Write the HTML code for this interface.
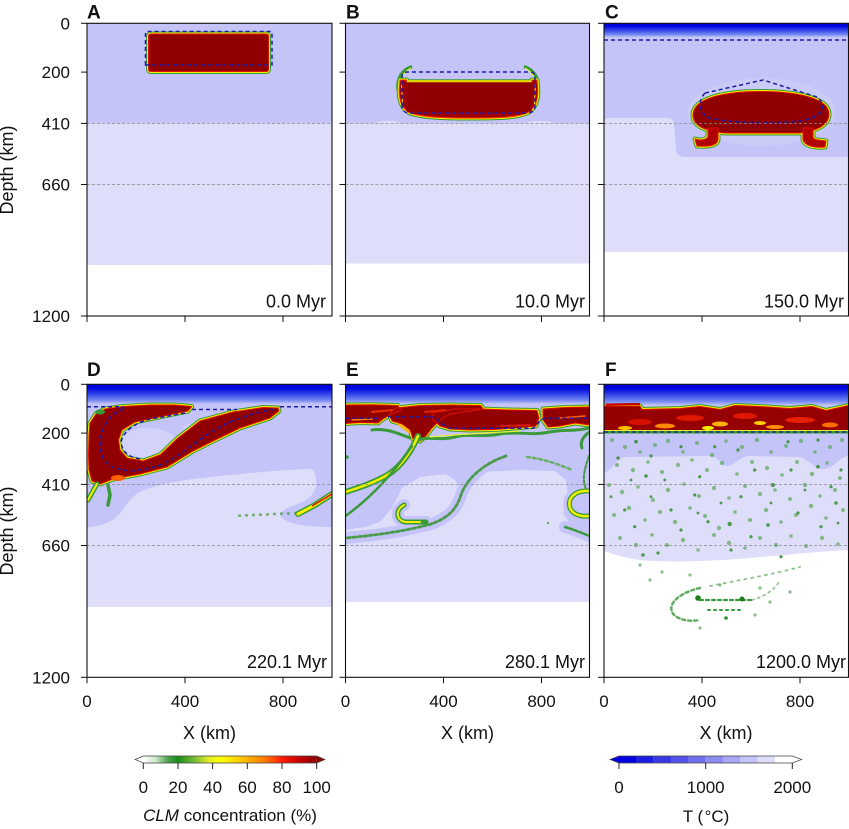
<!DOCTYPE html>
<html><head><meta charset="utf-8"><style>
html,body{margin:0;padding:0;background:#fff;}
svg{display:block;}
text{font-family:"Liberation Sans",Arial,sans-serif;fill:#111;}
</style></head><body>
<svg width="849" height="829" viewBox="0 0 849 829" xmlns="http://www.w3.org/2000/svg">
<defs>
<clipPath id="cA"><rect x="87" y="23.3" width="245" height="292.7"/></clipPath>
<clipPath id="cB"><rect x="345.5" y="23.3" width="244" height="292.7"/></clipPath>
<clipPath id="cC"><rect x="604" y="23.3" width="244.5" height="292.7"/></clipPath>
<clipPath id="cD"><rect x="87" y="384.3" width="245" height="293"/></clipPath>
<clipPath id="cE"><rect x="345.5" y="384.3" width="244" height="293"/></clipPath>
<clipPath id="cF"><rect x="604" y="384.3" width="244.5" height="293"/></clipPath>
<linearGradient id="gt" x1="0" y1="0" x2="0" y2="1">
<stop offset="0" stop-color="#0000dc"/><stop offset="0.2" stop-color="#0006de"/><stop offset="0.42" stop-color="#2434e6"/><stop offset="0.62" stop-color="#4a5eec"/><stop offset="0.82" stop-color="#7a8cf2"/><stop offset="1" stop-color="#c4c4f8"/>
</linearGradient>
<linearGradient id="gclm" x1="0" y1="0" x2="1" y2="0">
<stop offset="0" stop-color="#ffffff"/><stop offset="0.07" stop-color="#cfe8cf"/><stop offset="0.14" stop-color="#4fa34f"/><stop offset="0.2" stop-color="#1a8a1a"/><stop offset="0.3" stop-color="#7cbf34"/><stop offset="0.38" stop-color="#e4f020"/><stop offset="0.45" stop-color="#ffff00"/><stop offset="0.58" stop-color="#ffbe00"/><stop offset="0.7" stop-color="#ff7a00"/><stop offset="0.8" stop-color="#ff1a00"/><stop offset="0.9" stop-color="#c80000"/><stop offset="1" stop-color="#8b0000"/>
</linearGradient>
</defs>
<rect width="849" height="829" fill="#fff"/>

<!-- ================= PANEL A ================= -->
<g clip-path="url(#cA)">
<rect x="87" y="23.3" width="245" height="100.1" fill="#c4c4f8"/>
<rect x="87" y="123.4" width="245" height="141.6" fill="#dedefa"/>
<rect x="148.5" y="34" width="120" height="37.5" rx="2" fill="none" stroke="#3a9a3a" stroke-width="5"/>
<rect x="148.5" y="34" width="120" height="37.5" rx="2" fill="none" stroke="#f4f000" stroke-width="3"/>
<rect x="148.5" y="34" width="120" height="37.5" rx="2" fill="#900000" stroke="#e01000" stroke-width="1"/>
<path d="M145.5,65 L145.5,33 Q145.5,31.5 147,31.5 L270.5,31.5 Q272,31.5 272,33 L272,65 Z" fill="none" stroke="#1c1ca8" stroke-width="1.5" stroke-dasharray="4 3"/>
</g>

<!-- ================= PANEL B ================= -->
<g clip-path="url(#cB)">
<rect x="345.5" y="23.3" width="244" height="100.1" fill="#c4c4f8"/>
<rect x="345.5" y="123.4" width="244" height="140.1" fill="#dedefa"/>
<ellipse cx="388" cy="123.4" rx="12" ry="2.5" fill="#dedefa"/>
<ellipse cx="540" cy="123.4" rx="14" ry="2.5" fill="#dedefa"/>
<path d="M412,66.5 C402,70 397,78 398,90" fill="none" stroke="#3a9a3a" stroke-width="3.5"/>
<path d="M524,66.5 C534,70 539,78 538,90" fill="none" stroke="#3a9a3a" stroke-width="3.5"/>
<path d="M411,68 C403,72 399,80 400,90" fill="none" stroke="#e8f030" stroke-width="1"/>
<path d="M525,68 C533,72 537,80 536,90" fill="none" stroke="#e8f030" stroke-width="1"/>
<path d="M400,80 C398,95 399,107 410,113 C425,118 450,118 468,118 C495,118 515,118 527,113 C538,107 539,95 537,80 L531.7,80 L531.7,81.7 L406.7,81.7 L406.7,80 Z" fill="none" stroke="#3a9a3a" stroke-width="5" stroke-linejoin="round"/>
<path d="M400,80 C398,95 399,107 410,113 C425,118 450,118 468,118 C495,118 515,118 527,113 C538,107 539,95 537,80 L531.7,80 L531.7,81.7 L406.7,81.7 L406.7,80 Z" fill="none" stroke="#f4f000" stroke-width="3" stroke-linejoin="round"/>
<path d="M400,80 C398,95 399,107 410,113 C425,118 450,118 468,118 C495,118 515,118 527,113 C538,107 539,95 537,80 L531.7,80 L531.7,81.7 L406.7,81.7 L406.7,80 Z" fill="#a00000" stroke="#ff3000" stroke-width="1" stroke-linejoin="round"/>
<path d="M401.5,84 L402.5,104" stroke="#f0e000" stroke-width="1" fill="none"/>
<path d="M535.5,84 L534.5,104" stroke="#f0e000" stroke-width="1" fill="none"/>
<rect x="406.7" y="81.7" width="125" height="30" fill="#900000"/>
<line x1="406.7" y1="81.7" x2="531.7" y2="81.7" stroke="#f0e000" stroke-width="1.2"/>
<path d="M402,106 L402,77 Q402,72 407,72 L530,72 Q535,72 535,77 L535,106 Q535,113 527,113 L410,113 Q402,113 402,106 Z" fill="none" stroke="#1c1ca8" stroke-width="1.5" stroke-dasharray="4 3"/>
</g>

<!-- ================= PANEL C ================= -->
<g clip-path="url(#cC)">
<rect x="604" y="23.3" width="244.5" height="228.4" fill="#c4c4f8"/>
<rect x="604" y="23.3" width="244.5" height="14" fill="url(#gt)"/>
<path d="M604,121 Q604,118 610,118 L668,118 Q673,118 674,124 L676,150 Q677,157 685,157 L848.5,157 L848.5,251.7 L604,251.7 Z" fill="#dedefa"/>
<ellipse cx="762" cy="112" rx="74" ry="34" fill="#cbcbf8"/>
<line x1="604" y1="40" x2="848.5" y2="40" stroke="#1c1ca8" stroke-width="1.5" stroke-dasharray="4 3"/>
<g stroke-linejoin="round">
<path d="M693,115 C693,98 725,91.5 760,91.5 C800,91.5 829,99 829,114 C829,126 815,131 800,133 L725,133 C705,131 693,126 693,115 Z M708,128 L718,128 L718,140 C717,145 710,147 697,146 L695,139 C700,141 706,140 708,137 Z M803,128 L813,128 L813,138 C816,141 822,140 826,141 L825,147 C815,148 805,146 803,140 Z" fill="none" stroke="#3a9a3a" stroke-width="5"/>
<path d="M693,115 C693,98 725,91.5 760,91.5 C800,91.5 829,99 829,114 C829,126 815,131 800,133 L725,133 C705,131 693,126 693,115 Z M708,128 L718,128 L718,140 C717,145 710,147 697,146 L695,139 C700,141 706,140 708,137 Z M803,128 L813,128 L813,138 C816,141 822,140 826,141 L825,147 C815,148 805,146 803,140 Z" fill="none" stroke="#f4f000" stroke-width="3"/>
<path d="M693,115 C693,98 725,91.5 760,91.5 C800,91.5 829,99 829,114 C829,126 815,131 800,133 L725,133 C705,131 693,126 693,115 Z" fill="#900000" stroke="#e01000" stroke-width="1"/>
<path d="M708,128 L718,128 L718,140 C717,145 710,147 697,146 L695,139 C700,141 706,140 708,137 Z M803,128 L813,128 L813,138 C816,141 822,140 826,141 L825,147 C815,148 805,146 803,140 Z" fill="#b00000" stroke="#e01000" stroke-width="1"/>
</g>
<path d="M705,93 L763,80 L817,97 C827,105 825,117 800,121 C770,124 730,123 710,118 C698,114 698,100 705,93 Z" fill="none" stroke="#1c1ca8" stroke-width="1.5" stroke-dasharray="4 3"/>
</g>

<!-- ================= PANEL D ================= -->
<g clip-path="url(#cD)">
<rect x="87" y="384.3" width="245" height="222.4" fill="#c4c4f8"/>
<rect x="87" y="384.3" width="245" height="19.7" fill="url(#gt)"/>
<path d="M87,527 L87,606.7 L332,606.7 L332,527 C310,527 290,525 282,518 C276,513 285,508 300,503 C312,498 317,490 316,480 C315,470 312,468 305,469 C280,470 240,474 210,477 C180,480 155,485 140,492 C128,498 125,510 115,518 C108,524 95,527 87,527 Z" fill="#dedefa"/>
<ellipse cx="148" cy="444" rx="30" ry="16" fill="#d2d2fa"/>
<path d="M182,428 C195,420 215,414 236,411 C215,416 200,422 190,430 Z" fill="#d2d2fa"/>
<g stroke-linejoin="round">
<path d="M90,423 L96,414 L105,409 L123,406.5 L150,405 L175,405 L191.7,406.5 L188,411 L160,416.7 L135,422 L122,430 L118.5,440 L120,450 L127,458 L143,461 L160,455 L178,438 L200,421 L233,412 L263,407.5 L278,408 L279,411 L270,418 L240,428 L215,440 L193,451 L167,467 L140,474 L113,479 L100,484 L92,481 L89,470 L88.5,455 L89,435 Z" fill="none" stroke="#3a9a3a" stroke-width="5"/>
<path d="M90,423 L96,414 L105,409 L123,406.5 L150,405 L175,405 L191.7,406.5 L188,411 L160,416.7 L135,422 L122,430 L118.5,440 L120,450 L127,458 L143,461 L160,455 L178,438 L200,421 L233,412 L263,407.5 L278,408 L279,411 L270,418 L240,428 L215,440 L193,451 L167,467 L140,474 L113,479 L100,484 L92,481 L89,470 L88.5,455 L89,435 Z" fill="none" stroke="#f4f000" stroke-width="3"/>
<path d="M90,423 L96,414 L105,409 L123,406.5 L150,405 L175,405 L191.7,406.5 L188,411 L160,416.7 L135,422 L122,430 L118.5,440 L120,450 L127,458 L143,461 L160,455 L178,438 L200,421 L233,412 L263,407.5 L278,408 L279,411 L270,418 L240,428 L215,440 L193,451 L167,467 L140,474 L113,479 L100,484 L92,481 L89,470 L88.5,455 L89,435 Z" fill="#900000" stroke="#e01000" stroke-width="1"/>
</g>
<ellipse cx="118" cy="478" rx="7" ry="3" fill="#ff6000"/>
<ellipse cx="100" cy="412" rx="5" ry="2.5" fill="#3a9a3a"/>
<path d="M88,500 L93,491 L97,484" fill="none" stroke="#3a9a3a" stroke-width="5" stroke-linecap="round"/>
<path d="M88,500 L93,491 L97,484" fill="none" stroke="#f4f000" stroke-width="2" stroke-linecap="round"/>
<path d="M108,485 L110,495 L108,505" fill="none" stroke="#3a9a3a" stroke-width="3.5" stroke-linecap="round"/>
<path d="M238,515.7 L298,513" fill="none" stroke="#4e9e4e" stroke-width="2.5" stroke-dasharray="3 4" opacity="0.75"/>
<path d="M298,514 L315,505 L332,494" fill="none" stroke="#3a9a3a" stroke-width="6" stroke-linecap="round"/>
<path d="M298,514 L315,505 L332,494" fill="none" stroke="#f4f000" stroke-width="3" stroke-linecap="round"/>
<path d="M312,506 L332,494" fill="none" stroke="#e01000" stroke-width="1.5"/>
<g fill="none" stroke="#1c1ca8" stroke-width="1.5" stroke-dasharray="4 3">
<path d="M87,406.7 L123,406.7"/>
<path d="M123,409 C100,418 96,445 104,460 C112,472 135,474 160,465 C185,455 200,435 230,422 C250,414 265,410 278,409"/>
<path d="M192,409.5 L237,409.5"/>
<path d="M185,413 L150,419 Q125,426 121,442 Q122,456 140,459"/>
<path d="M280,406.7 L332,406.7"/>
</g>
</g>

<!-- ================= PANEL E ================= -->
<g clip-path="url(#cE)">
<rect x="345.5" y="384.3" width="244" height="217.4" fill="#c4c4f8"/>
<rect x="345.5" y="384.3" width="244" height="19.7" fill="url(#gt)"/>
<path d="M345.5,530 L365,527 L380,522 L392,508 L402,488 L420,477 L445,474 L455,480 L460,488 L466,479 L482,472 L520,470 L555,471 L566,480 L568,498 L563,514 L574,528 L589.5,538 L589.5,601.7 L345.5,601.7 Z" fill="#dedefa"/>
<g fill="none" stroke="#c4c4f8" stroke-width="12" stroke-linecap="round">
<path d="M418,436 C411,452 401,466 389,474 C376,482 361,487 345.5,492"/>
<path d="M412,446 C397,468 376,494 345.5,516"/>
<path d="M506,456 C482,464 466,480 461,495 C456,510 448,518 431,524 C410,530 380,535 345.5,538"/>
<path d="M404,505 C395,510 396,520 405,522 L426,522"/>
<path d="M589.5,491 C575,490 567,498 570,508 C573,515 582,517 589.5,516"/>
<path d="M565,527 C575,530 582,533 589.5,536"/>
</g>
<g stroke-linejoin="round">
<path d="M345.5,405 L372,404.8 L398,405.5 L401,410 L392,414 L383,419 L378,423 L360,422.5 L345.5,423.5 Z M389,414 L396,408 L420,405.5 L450,405 L481,405.5 L483,409 L470,411 L450,414 L440,420 L432,428 L426,436 L420,441 L413,439 L410,430 L402,424 L392,421 Z M432,413 L455,409 L480,409 L510,410 L537,410.5 L539,418 L536,426 L520,427.5 L495,429.5 L470,430 L450,429 L440,426 L433,420 Z M543,409 L565,407.5 L589.5,407 L589.5,425 L575,423 L560,426 L548,427 L543,420 Z" fill="none" stroke="#3a9a3a" stroke-width="5"/>
<path d="M345.5,405 L372,404.8 L398,405.5 L401,410 L392,414 L383,419 L378,423 L360,422.5 L345.5,423.5 Z M389,414 L396,408 L420,405.5 L450,405 L481,405.5 L483,409 L470,411 L450,414 L440,420 L432,428 L426,436 L420,441 L413,439 L410,430 L402,424 L392,421 Z M432,413 L455,409 L480,409 L510,410 L537,410.5 L539,418 L536,426 L520,427.5 L495,429.5 L470,430 L450,429 L440,426 L433,420 Z M543,409 L565,407.5 L589.5,407 L589.5,425 L575,423 L560,426 L548,427 L543,420 Z" fill="none" stroke="#f4f000" stroke-width="3"/>
<path d="M345.5,405 L372,404.8 L398,405.5 L401,410 L392,414 L383,419 L378,423 L360,422.5 L345.5,423.5 Z M389,414 L396,408 L420,405.5 L450,405 L481,405.5 L483,409 L470,411 L450,414 L440,420 L432,428 L426,436 L420,441 L413,439 L410,430 L402,424 L392,421 Z M432,413 L455,409 L480,409 L510,410 L537,410.5 L539,418 L536,426 L520,427.5 L495,429.5 L470,430 L450,429 L440,426 L433,420 Z M543,409 L565,407.5 L589.5,407 L589.5,425 L575,423 L560,426 L548,427 L543,420 Z" fill="#920000" stroke="#e01000" stroke-width="1"/>
</g>
<g fill="none" stroke-linecap="round">
<path d="M398,424 L410,433" stroke="#ffb000" stroke-width="2"/>
<path d="M372,412 L392,410" stroke="#e83000" stroke-width="2"/>
<path d="M352,420 L372,419" stroke="#ff8000" stroke-width="1.5"/>
<path d="M425,412 L445,410" stroke="#e02000" stroke-width="2"/>
<path d="M560,418 L585,416" stroke="#ff6000" stroke-width="1.5"/>
<path d="M500,426 L530,425" stroke="#e02000" stroke-width="1.5"/>
<path d="M372,430 C385,428 395,432 410,438" stroke="#3a9a3a" stroke-width="3"/>
<path d="M418,440 C430,436 440,441 455,437 C470,433 480,438 500,434 C520,431 530,436 550,432 C565,429 575,432 589.5,428" stroke="#3a9a3a" stroke-width="3"/>
<path d="M430,437 C460,434 490,433 520,431" stroke="#e8f030" stroke-width="1.2"/>
<path d="M418,436 C411,452 401,466 389,474 C376,482 361,487 345.5,492" stroke="#3a9a3a" stroke-width="6"/>
<path d="M418,436 C411,452 401,466 389,474 C376,482 361,487 345.5,492" stroke="#f0f000" stroke-width="2.5"/>
<path d="M412,446 C397,468 376,494 345.5,516" stroke="#3a9a3a" stroke-width="2.5"/>
<path d="M506,456 C482,464 466,480 461,495 C456,510 448,518 431,524 C410,530 380,535 345.5,538" stroke="#4a9a4a" stroke-width="2.8" stroke-dasharray="3 2.5"/>
<path d="M404,505 C395,510 396,520 405,522 L426,522" stroke="#3a9a3a" stroke-width="5"/>
<path d="M404,505 C395,510 396,520 405,522 L420,522" stroke="#f0f000" stroke-width="2"/>
<path d="M527,457 C545,459 560,465 572,470" stroke="#6aae6a" stroke-width="2.5" stroke-dasharray="3 3"/>
<path d="M589.5,491 C575,490 567,498 570,508 C573,515 582,517 589.5,516" stroke="#3a9a3a" stroke-width="5"/>
<path d="M589.5,491 C575,490 567,498 570,508 C573,515 582,517 589.5,516" stroke="#f0f000" stroke-width="2.5"/>
<path d="M565,527 C575,530 582,533 589.5,536" stroke="#3a9a3a" stroke-width="2.5" stroke-dasharray="3 2"/>
<path d="M589.5,432 C582,437 580,443 582,448" stroke="#3a9a3a" stroke-width="3"/>
<path d="M589,456 C584,470 582,480 586,489" stroke="#4a9a4a" stroke-width="2" stroke-dasharray="3 2"/>
</g>
<circle cx="347" cy="457" r="1.8" fill="#3a9a3a"/>
<circle cx="548" cy="523" r="1.2" fill="#6aae6a"/>
<path d="M345.5,418.3 L378,418.3 M388,416.7 L432,416.7 C438,418 442,426 450,428.3 L533,428.3 C537,426 538,420 545,418.3 L589.5,418.3" fill="none" stroke="#1c1ca8" stroke-width="1.5" stroke-dasharray="4 3"/>
</g>

<!-- ================= PANEL F ================= -->
<g clip-path="url(#cF)">
<rect x="604" y="384.3" width="244.5" height="92" fill="#c4c4f8"/>
<rect x="604" y="384.3" width="244.5" height="21" fill="url(#gt)"/>
<path d="M604,473 C612,470 615,460 625,457 L710,456 C720,457 722,467 728,466 C735,465 740,457 748,456 L800,457 C810,460 815,470 825,469 C835,467 840,457 848.5,456 L848.5,550 C820,551 790,555 760,557 C720,561 670,563 640,560 C620,557 610,553 604,551 Z" fill="#dedefa"/>
<g stroke-linejoin="round">
<path d="M604,406 L640,406 L642,409.5 L660,409 L680,408.5 L700,406.5 L720,409.5 L735,405.5 L760,406.5 L790,408.5 L812,406.5 L826,410.5 L848.5,405.5 L848.5,431 L604,431 Z" fill="none" stroke="#3a9a3a" stroke-width="5"/>
<path d="M604,406 L640,406 L642,409.5 L660,409 L680,408.5 L700,406.5 L720,409.5 L735,405.5 L760,406.5 L790,408.5 L812,406.5 L826,410.5 L848.5,405.5 L848.5,431 L604,431 Z" fill="none" stroke="#f4f000" stroke-width="3"/>
<path d="M604,406 L640,406 L642,409.5 L660,409 L680,408.5 L700,406.5 L720,409.5 L735,405.5 L760,406.5 L790,408.5 L812,406.5 L826,410.5 L848.5,405.5 L848.5,431 L604,431 Z" fill="#960000" stroke="#e01000" stroke-width="1"/>
</g>
<g>
<ellipse cx="690" cy="418" rx="14" ry="3" fill="#e01800"/>
<ellipse cx="745" cy="416" rx="12" ry="3" fill="#e01800"/>
<ellipse cx="800" cy="420" rx="15" ry="3" fill="#e82000"/>
<ellipse cx="640" cy="422" rx="12" ry="3" fill="#d81000"/>
<ellipse cx="665" cy="426" rx="10" ry="2.5" fill="#ff8a00"/>
<ellipse cx="720" cy="424" rx="8" ry="2.5" fill="#ffb000"/>
<ellipse cx="775" cy="427" rx="9" ry="2" fill="#ff9000"/>
<ellipse cx="830" cy="425" rx="8" ry="2.5" fill="#ff7000"/>
<ellipse cx="708" cy="428" rx="6" ry="2" fill="#f0f000"/>
<ellipse cx="625" cy="428" rx="7" ry="2" fill="#ffc000"/>
<ellipse cx="760" cy="423" rx="6" ry="2" fill="#ffd000"/>
</g>
<path d="M606,404.5 L640,404" fill="none" stroke="#c00000" stroke-width="2"/>
<path d="M604,432 L848.5,432" fill="none" stroke="#3a9a3a" stroke-width="3"/>
<path d="M604,430.5 L848.5,430.5" fill="none" stroke="#e8f030" stroke-width="1"/>
<path d="M604,432 L848.5,432" fill="none" stroke="#1c1c90" stroke-width="1.3" stroke-dasharray="4 3"/>
<g fill="#5aa85a" opacity="0.7">
<circle cx="612" cy="440" r="2"/><circle cx="625" cy="447" r="2.2"/><circle cx="640" cy="452" r="1.8"/><circle cx="655" cy="445" r="2"/><circle cx="668" cy="441" r="2.2"/><circle cx="683" cy="452" r="1.8"/><circle cx="697" cy="443" r="2"/><circle cx="712" cy="455" r="2.2"/><circle cx="726" cy="441" r="1.8"/><circle cx="742" cy="447" r="2"/><circle cx="757" cy="440" r="2.2"/><circle cx="771" cy="452" r="1.8"/><circle cx="786" cy="446" r="2"/><circle cx="801" cy="441" r="2.2"/><circle cx="815" cy="452" r="1.8"/><circle cx="830" cy="447" r="2"/><circle cx="842" cy="440" r="2"/>
<circle cx="617" cy="465" r="2"/><circle cx="633" cy="470" r="2.2"/><circle cx="648" cy="462" r="1.8"/><circle cx="662" cy="472" r="2"/><circle cx="678" cy="465" r="2.2"/><circle cx="692" cy="460" r="1.8"/><circle cx="707" cy="470" r="2"/><circle cx="722" cy="463" r="2.2"/><circle cx="737" cy="474" r="1.8"/><circle cx="752" cy="462" r="2"/><circle cx="767" cy="468" r="2.2"/><circle cx="782" cy="475" r="1.8"/><circle cx="797" cy="462" r="2"/><circle cx="812" cy="474" r="2.2"/><circle cx="827" cy="463" r="1.8"/><circle cx="840" cy="478" r="2"/>
<circle cx="609" cy="485" r="2"/><circle cx="622" cy="492" r="2.2"/><circle cx="638" cy="487" r="1.8"/><circle cx="653" cy="500" r="2"/><circle cx="668" cy="490" r="2.2"/><circle cx="684" cy="484" r="1.8"/><circle cx="699" cy="496" r="2"/><circle cx="714" cy="488" r="2.2"/><circle cx="729" cy="498" r="1.8"/><circle cx="745" cy="486" r="2"/><circle cx="760" cy="494" r="2.2"/><circle cx="775" cy="490" r="1.8"/><circle cx="790" cy="499" r="2"/><circle cx="805" cy="485" r="2.2"/><circle cx="820" cy="496" r="1.8"/><circle cx="835" cy="490" r="2"/>
<circle cx="614" cy="515" r="2"/><circle cx="629" cy="508" r="2.2"/><circle cx="645" cy="520" r="1.8"/><circle cx="660" cy="512" r="2"/><circle cx="675" cy="522" r="2.2"/><circle cx="690" cy="508" r="1.8"/><circle cx="705" cy="516" r="2"/><circle cx="719" cy="528" r="2.2"/><circle cx="735" cy="512" r="1.8"/><circle cx="750" cy="520" r="2"/><circle cx="766" cy="510" r="2.2"/><circle cx="781" cy="522" r="1.8"/><circle cx="796" cy="515" r="2"/><circle cx="811" cy="506" r="2.2"/><circle cx="826" cy="518" r="1.8"/><circle cx="843" cy="510" r="2"/>
<circle cx="620" cy="538" r="2"/><circle cx="636" cy="545" r="2.2"/><circle cx="652" cy="535" r="1.8"/><circle cx="667" cy="545" r="2"/><circle cx="683" cy="540" r="2.2"/><circle cx="698" cy="550" r="1.8"/><circle cx="714" cy="535" r="2"/><circle cx="729" cy="543" r="2.2"/><circle cx="745" cy="548" r="1.8"/><circle cx="760" cy="538" r="2"/><circle cx="776" cy="545" r="2.2"/><circle cx="791" cy="536" r="1.8"/><circle cx="806" cy="546" r="2"/><circle cx="822" cy="538" r="2.2"/><circle cx="838" cy="544" r="1.8"/>
<circle cx="640" cy="565" r="1.6"/><circle cx="662" cy="572" r="1.6"/><circle cx="690" cy="575" r="1.6"/><circle cx="720" cy="585" r="1.6"/><circle cx="760" cy="588" r="1.6"/><circle cx="790" cy="592" r="1.6"/><circle cx="770" cy="602" r="1.6"/><circle cx="755" cy="615" r="1.6"/><circle cx="700" cy="628" r="1.6"/><circle cx="650" cy="580" r="1.6"/>
</g>
<g fill="#2f8f2f" opacity="0.85">
<circle cx="636" cy="441.7" r="1.8"/><circle cx="646" cy="476" r="1.8"/><circle cx="651" cy="456" r="1.6"/><circle cx="773" cy="485" r="2"/><circle cx="729.7" cy="524" r="2.2"/><circle cx="768" cy="525" r="1.8"/><circle cx="836" cy="503" r="1.8"/><circle cx="818" cy="466.7" r="1.8"/><circle cx="699.7" cy="476.7" r="1.6"/><circle cx="694.7" cy="495" r="1.6"/><circle cx="643" cy="555" r="1.8"/><circle cx="738" cy="450" r="1.6"/><circle cx="788" cy="441.7" r="1.6"/><circle cx="818" cy="440" r="1.6"/><circle cx="618" cy="458" r="1.6"/><circle cx="671" cy="510" r="1.6"/><circle cx="708" cy="521.7" r="1.6"/><circle cx="751" cy="536.7" r="1.6"/><circle cx="798" cy="513" r="1.6"/><circle cx="831" cy="486.7" r="1.6"/><circle cx="681" cy="530" r="1.6"/><circle cx="658" cy="553" r="1.6"/><circle cx="731" cy="550" r="1.6"/><circle cx="781" cy="556.7" r="1.6"/><circle cx="624.7" cy="510" r="1.6"/><circle cx="611" cy="496.7" r="1.4"/><circle cx="754.7" cy="470" r="1.6"/><circle cx="714.7" cy="446.7" r="1.6"/><circle cx="681" cy="446.7" r="1.6"/><circle cx="791" cy="470" r="1.6"/><circle cx="841" cy="470" r="1.6"/><circle cx="805" cy="490" r="1.4"/><circle cx="721" cy="503" r="1.4"/><circle cx="741" cy="496.7" r="1.6"/><circle cx="771" cy="503" r="1.4"/><circle cx="651" cy="496.7" r="1.4"/><circle cx="634.7" cy="526.7" r="1.6"/><circle cx="698" cy="513" r="1.4"/><circle cx="821" cy="526.7" r="1.6"/><circle cx="838" cy="523" r="1.4"/><circle cx="664.7" cy="480" r="1.4"/><circle cx="631" cy="480" r="1.4"/>
</g>
<g fill="none" stroke="#3a9a3a" stroke-linecap="round">
<path d="M700,588 C682,592 668,602 672,612 C676,620 690,622 700,620" stroke-width="2.5" stroke-dasharray="3 3" opacity="0.8"/>
<path d="M700,600 L752,600" stroke-width="2.2" stroke-dasharray="3 3"/>
<path d="M708,610 L740,610" stroke-width="2" stroke-dasharray="2 4"/>
<path d="M710,586 C740,580 770,575 800,567" stroke-width="1.8" stroke-dasharray="2 5" opacity="0.6"/>
<path d="M752,600 C765,596 775,590 780,580" stroke-width="1.6" stroke-dasharray="2 4" opacity="0.6"/>
</g>
<circle cx="698" cy="598" r="2.8" fill="#1f7f1f"/>
<circle cx="742" cy="599" r="2.5" fill="#1f7f1f"/>
<circle cx="726" cy="618" r="1.8" fill="#2f8f2f"/>
</g>

<!-- ===== gray dashed 410/660 lines ===== -->
<g stroke="#8a8a8a" stroke-width="0.8" stroke-dasharray="3 2">
<line x1="87" y1="123.4" x2="332" y2="123.4"/><line x1="87" y1="184.5" x2="332" y2="184.5"/>
<line x1="345.5" y1="123.4" x2="589.5" y2="123.4"/><line x1="345.5" y1="184.5" x2="589.5" y2="184.5"/>
<line x1="604" y1="123.4" x2="848.5" y2="123.4"/><line x1="604" y1="184.5" x2="848.5" y2="184.5"/>
<line x1="87" y1="484.4" x2="332" y2="484.4"/><line x1="87" y1="545.5" x2="332" y2="545.5"/>
<line x1="345.5" y1="484.4" x2="589.5" y2="484.4"/><line x1="345.5" y1="545.5" x2="589.5" y2="545.5"/>
<line x1="604" y1="484.4" x2="848.5" y2="484.4"/><line x1="604" y1="545.5" x2="848.5" y2="545.5"/>
</g>

<!-- ===== frames ===== -->
<g fill="none" stroke="#111" stroke-width="1.1">
<rect x="87" y="23.3" width="245" height="292.7"/>
<rect x="345.5" y="23.3" width="244" height="292.7"/>
<rect x="604" y="23.3" width="244.5" height="292.7"/>
<rect x="87" y="384.3" width="245" height="293"/>
<rect x="345.5" y="384.3" width="244" height="293"/>
<rect x="604" y="384.3" width="244.5" height="293"/>
</g>

<!-- ===== ticks ===== -->
<g stroke="#111" stroke-width="1">
<line x1="81" y1="23.3" x2="87" y2="23.3"/><line x1="81" y1="72.1" x2="87" y2="72.1"/><line x1="81" y1="123.4" x2="87" y2="123.4"/><line x1="81" y1="184.5" x2="87" y2="184.5"/><line x1="81" y1="316" x2="87" y2="316"/>
<line x1="339.5" y1="23.3" x2="345.5" y2="23.3"/><line x1="339.5" y1="72.1" x2="345.5" y2="72.1"/><line x1="339.5" y1="123.4" x2="345.5" y2="123.4"/><line x1="339.5" y1="184.5" x2="345.5" y2="184.5"/><line x1="339.5" y1="316" x2="345.5" y2="316"/>
<line x1="598" y1="23.3" x2="604" y2="23.3"/><line x1="598" y1="72.1" x2="604" y2="72.1"/><line x1="598" y1="123.4" x2="604" y2="123.4"/><line x1="598" y1="184.5" x2="604" y2="184.5"/><line x1="598" y1="316" x2="604" y2="316"/>
<line x1="81" y1="384.3" x2="87" y2="384.3"/><line x1="81" y1="433.1" x2="87" y2="433.1"/><line x1="81" y1="484.4" x2="87" y2="484.4"/><line x1="81" y1="545.5" x2="87" y2="545.5"/><line x1="81" y1="677.3" x2="87" y2="677.3"/>
<line x1="339.5" y1="384.3" x2="345.5" y2="384.3"/><line x1="339.5" y1="433.1" x2="345.5" y2="433.1"/><line x1="339.5" y1="484.4" x2="345.5" y2="484.4"/><line x1="339.5" y1="545.5" x2="345.5" y2="545.5"/><line x1="339.5" y1="677.3" x2="345.5" y2="677.3"/>
<line x1="598" y1="384.3" x2="604" y2="384.3"/><line x1="598" y1="433.1" x2="604" y2="433.1"/><line x1="598" y1="484.4" x2="604" y2="484.4"/><line x1="598" y1="545.5" x2="604" y2="545.5"/><line x1="598" y1="677.3" x2="604" y2="677.3"/>
<line x1="87" y1="316" x2="87" y2="322"/><line x1="185" y1="316" x2="185" y2="322"/><line x1="283" y1="316" x2="283" y2="322"/>
<line x1="345.5" y1="316" x2="345.5" y2="322"/><line x1="443.5" y1="316" x2="443.5" y2="322"/><line x1="541.5" y1="316" x2="541.5" y2="322"/>
<line x1="604" y1="316" x2="604" y2="322"/><line x1="702" y1="316" x2="702" y2="322"/><line x1="800" y1="316" x2="800" y2="322"/>
<line x1="87" y1="677.3" x2="87" y2="683.3"/><line x1="185" y1="677.3" x2="185" y2="683.3"/><line x1="283" y1="677.3" x2="283" y2="683.3"/>
<line x1="345.5" y1="677.3" x2="345.5" y2="683.3"/><line x1="443.5" y1="677.3" x2="443.5" y2="683.3"/><line x1="541.5" y1="677.3" x2="541.5" y2="683.3"/>
<line x1="604" y1="677.3" x2="604" y2="683.3"/><line x1="702" y1="677.3" x2="702" y2="683.3"/><line x1="800" y1="677.3" x2="800" y2="683.3"/>
</g>

<!-- ===== panel letters ===== -->
<g font-size="19" font-weight="bold">
<text x="87" y="18.5">A</text><text x="346" y="18.5">B</text><text x="605" y="18.5">C</text>
<text x="87" y="376">D</text><text x="346" y="376">E</text><text x="605" y="376">F</text>
</g>

<!-- ===== y tick labels ===== -->
<g font-size="17" text-anchor="end">
<text x="70" y="29.3">0</text><text x="70" y="78.1">200</text><text x="70" y="129.4">410</text><text x="70" y="190.5">660</text><text x="70" y="322">1200</text>
<text x="70" y="390.3">0</text><text x="70" y="439.1">200</text><text x="70" y="490.4">410</text><text x="70" y="551.5">660</text><text x="70" y="683.3">1200</text>
</g>
<text font-size="18" text-anchor="middle" transform="translate(13,170) rotate(-90)">Depth (km)</text>
<text font-size="18" text-anchor="middle" transform="translate(13,531) rotate(-90)">Depth (km)</text>

<!-- ===== x tick labels ===== -->
<g font-size="17" text-anchor="middle">
<text x="87" y="707">0</text><text x="185" y="707">400</text><text x="283" y="707">800</text>
<text x="345.5" y="707">0</text><text x="443.5" y="707">400</text><text x="541.5" y="707">800</text>
<text x="604" y="707">0</text><text x="702" y="707">400</text><text x="800" y="707">800</text>
</g>
<g font-size="18" text-anchor="middle">
<text x="209.5" y="739">X (km)</text><text x="467.5" y="739">X (km)</text><text x="726" y="739">X (km)</text>
</g>

<!-- ===== time labels ===== -->
<g font-size="18" text-anchor="end">
<text x="326" y="307.5">0.0 Myr</text><text x="585" y="307.5">10.0 Myr</text><text x="844" y="307.5">150.0 Myr</text>
<text x="327" y="668">220.1 Myr</text><text x="585" y="668">280.1 Myr</text><text x="846" y="668">1200.0 Myr</text>
</g>

<!-- ===== CLM colorbar ===== -->
<path d="M135,759.5 L143.3,756 L143.3,763 Z" fill="#fff"/>
<rect x="143.3" y="756" width="173.4" height="7" fill="url(#gclm)"/>
<path d="M316.7,756 L325,759.5 L316.7,763 Z" fill="#8b0000"/>
<path d="M135,759.5 L143.3,756 L316.7,756 L325,759.5 L316.7,763 L143.3,763 Z" fill="none" stroke="#444" stroke-width="0.7"/>
<g stroke="#222" stroke-width="1">
<line x1="143.3" y1="763" x2="143.3" y2="769"/><line x1="178" y1="763" x2="178" y2="769"/><line x1="212.6" y1="763" x2="212.6" y2="769"/><line x1="247.3" y1="763" x2="247.3" y2="769"/><line x1="282" y1="763" x2="282" y2="769"/><line x1="316.7" y1="763" x2="316.7" y2="769"/>
</g>
<g font-size="17" text-anchor="middle">
<text x="143.3" y="793">0</text><text x="178" y="793">20</text><text x="212.6" y="793">40</text><text x="247.3" y="793">60</text><text x="282" y="793">80</text><text x="316.7" y="793">100</text>
</g>
<text x="230" y="821" font-size="17" text-anchor="middle"><tspan font-style="italic">CLM</tspan> concentration (%)</text>

<!-- ===== T colorbar ===== -->
<path d="M610,759.5 L619,756 L619,763 Z" fill="#0000e0"/>
<rect x="619" y="756" width="17.4" height="7" fill="#0000e0"/>
<rect x="636.3" y="756" width="17.4" height="7" fill="#1c1ce3"/>
<rect x="653.7" y="756" width="17.4" height="7" fill="#3838e7"/>
<rect x="671" y="756" width="17.4" height="7" fill="#5454eb"/>
<rect x="688.3" y="756" width="17.4" height="7" fill="#7070ee"/>
<rect x="705.7" y="756" width="17.4" height="7" fill="#8c8cf1"/>
<rect x="723" y="756" width="17.4" height="7" fill="#a8a8f5"/>
<rect x="740.3" y="756" width="17.4" height="7" fill="#c4c4f8"/>
<rect x="757.7" y="756" width="17.4" height="7" fill="#dedefa"/>
<rect x="775" y="756" width="17.3" height="7" fill="#ffffff"/>
<path d="M610,759.5 L619,756 L792.3,756 L801.7,759.5 L792.3,763 L619,763 Z" fill="none" stroke="#444" stroke-width="0.7"/>
<g stroke="#222" stroke-width="1">
<line x1="619" y1="763" x2="619" y2="769"/><line x1="705.7" y1="763" x2="705.7" y2="769"/><line x1="792.3" y1="763" x2="792.3" y2="769"/>
</g>
<g font-size="17" text-anchor="middle">
<text x="619" y="793">0</text><text x="705.7" y="793">1000</text><text x="792.3" y="793">2000</text>
</g>
<text x="706" y="822" font-size="17" text-anchor="middle">T (&#8202;°C)</text>
</svg>
</body></html>
